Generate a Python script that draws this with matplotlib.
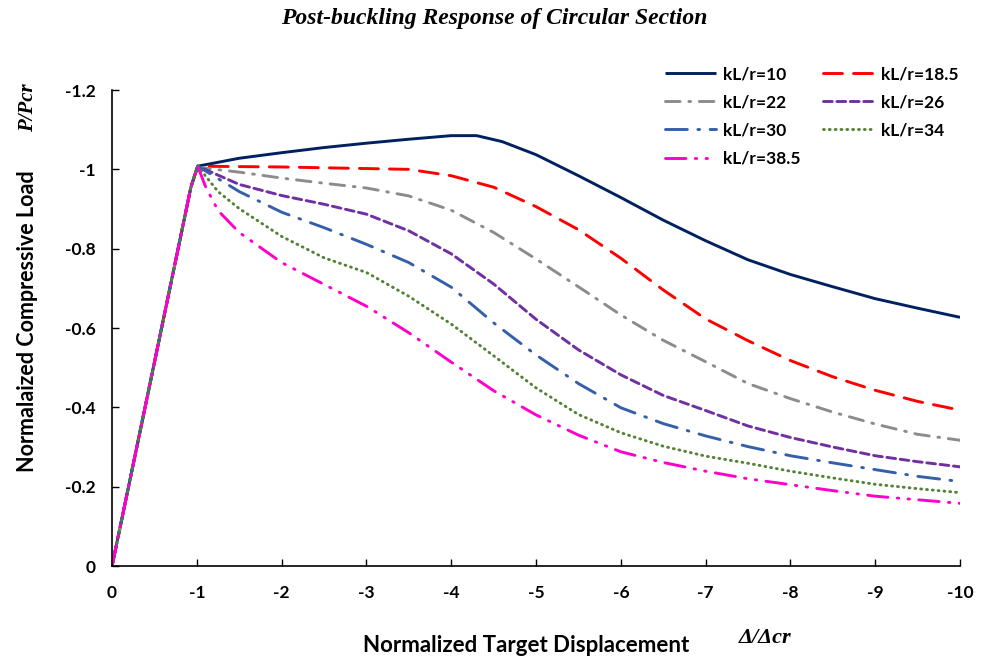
import numpy as np
import matplotlib
matplotlib.use('Agg')
import matplotlib.pyplot as plt

# 数据：归一化位移 Δ/Δcr 与 归一化荷载 P/Pcr
rise_x = [0, -0.93]
rise_y = [0, -0.955]

x_10 = [-1.01, -1.5, -2, -2.5, -3, -3.5, -4, -4.3, -4.6, -5, -5.5, -6, -6.5, -7, -7.5, -8, -8.5, -9, -9.5, -10]
y_10 = [-1.008, -1.028, -1.042, -1.055, -1.066, -1.076, -1.085, -1.085, -1.070, -1.037, -0.984, -0.929, -0.872, -0.820, -0.772, -0.735, -0.704, -0.674, -0.650, -0.627]

x_std = [-1.01, -1.5, -2, -2.5, -3, -3.5, -4, -4.5, -5, -5.5, -6, -6.5, -7, -7.5, -8, -8.5, -9, -9.5, -10]
y_185 = [-1.008, -1.007, -1.006, -1.004, -1.002, -1.000, -0.984, -0.955, -0.906, -0.848, -0.776, -0.696, -0.623, -0.568, -0.518, -0.477, -0.443, -0.415, -0.393]
y_22 = [-1.005, -0.993, -0.978, -0.965, -0.953, -0.933, -0.897, -0.841, -0.774, -0.704, -0.633, -0.569, -0.515, -0.460, -0.422, -0.388, -0.358, -0.332, -0.317]
y_26 = [-1.008, -0.962, -0.934, -0.912, -0.887, -0.845, -0.787, -0.711, -0.622, -0.545, -0.482, -0.430, -0.392, -0.353, -0.324, -0.300, -0.278, -0.263, -0.250]
y_30 = [-1.008, -0.944, -0.892, -0.853, -0.811, -0.765, -0.703, -0.613, -0.532, -0.460, -0.399, -0.359, -0.328, -0.301, -0.278, -0.260, -0.243, -0.226, -0.213]

x_34 = [-1.01, -1.25, -1.5, -2, -2.5, -3, -3.5, -4, -4.5, -5, -5.5, -6, -6.5, -7, -7.5, -8, -8.5, -9, -9.5, -10]
y_34 = [-1.008, -0.944, -0.901, -0.831, -0.777, -0.740, -0.680, -0.610, -0.530, -0.449, -0.382, -0.336, -0.302, -0.277, -0.259, -0.239, -0.222, -0.206, -0.195, -0.185]

x_385 = [-1.01, -1.1, -1.25, -1.5, -2, -2.5, -3, -3.5, -4, -4.5, -5, -5.5, -6, -6.5, -7, -7.5, -8, -8.5, -9, -9.5, -10]
y_385 = [-1.008, -0.958, -0.896, -0.841, -0.765, -0.710, -0.655, -0.588, -0.514, -0.442, -0.381, -0.330, -0.288, -0.261, -0.239, -0.220, -0.205, -0.190, -0.176, -0.167, -0.158]

x_ticks = [0, -1, -2, -3, -4, -5, -6, -7, -8, -9, -10]
x_ticklabels = ['0', '-1', '-2', '-3', '-4', '-5', '-6', '-7', '-8', '-9', '-10']
y_ticks = [0, -0.2, -0.4, -0.6, -0.8, -1.0, -1.2]
y_ticklabels = ['0', '-0.2', '-0.4', '-0.6', '-0.8', '-1', '-1.2']

# 曲线样式
series = [
    ('kL/r=10', x_10, y_10, '#002060', '-', None),
    ('kL/r=18.5', x_std, y_185, '#FF0000', '--', (6.5, 3.8)),
    ('kL/r=22', x_std, y_22, '#8C8C8C', '-.', (5.0, 3.0, 0.6, 3.0)),
    ('kL/r=26', x_std, y_26, '#7030A0', '--', (3.0, 1.6)),
    ('kL/r=30', x_std, y_30, '#3560A8', '-.', (7.5, 3.6, 0.6, 3.6)),
    ('kL/r=34', x_34, y_34, '#548235', ':', (0.3, 1.7)),
    ('kL/r=38.5', x_385, y_385, '#FF00CC', '-.', (7.0, 3.2, 0.5, 3.2, 0.5, 3.2)),
]

plt.rcParams['font.family'] = ['Lato', 'DejaVu Sans']

fig = plt.figure(figsize=(9.88, 6.62), dpi=100)
ax = fig.add_axes([0.1134, 0.145, 0.8583, 0.719])

lines = {}
for label, xs, ys, color, ls, dashes in series:
    xx = rise_x + xs
    yy = rise_y + ys
    ln, = ax.plot(xx, yy, color=color, linewidth=2.1, linestyle=ls,
                  label=label, dash_capstyle='round', solid_capstyle='butt')
    if dashes is not None:
        ln.set_dashes(dashes)
    lines[label] = ln

ax.set_xlim(0, -10)
ax.set_ylim(0, -1.2)
ax.set_xticks(x_ticks)
ax.set_xticklabels(x_ticklabels)
ax.set_yticks(y_ticks)
ax.set_yticklabels(y_ticklabels)
ax.tick_params(direction='in', length=5, width=1, labelsize=12.5, pad=14)
ax.tick_params(axis='y', pad=12)
for t in ax.get_xticklabels() + ax.get_yticklabels():
    t.set_fontweight('bold')

for s in ['top', 'right']:
    ax.spines[s].set_visible(False)
for s in ['left', 'bottom']:
    ax.spines[s].set_linewidth(1.2)

# 图例顺序（两列，按行排列）
order = ['kL/r=10', 'kL/r=22', 'kL/r=30', 'kL/r=38.5', 'kL/r=18.5', 'kL/r=26', 'kL/r=34']
leg = ax.legend([lines[k] for k in order], order, ncol=2, frameon=False,
                loc='upper left', bbox_to_anchor=(0.634, 1.083),
                prop={'weight': 'bold', 'size': 12.5},
                handlelength=2.9, handletextpad=0.45, columnspacing=1.25,
                labelspacing=0.7)

# 标题和坐标轴标签
fig.text(0.5, 0.972, 'Post-buckling Response of Circular Section', ha='center', va='center',
         fontsize=17, fontweight='bold', fontstyle='italic', family='Liberation Serif')
fig.text(0.028, 0.515, 'Normalaized Compressive Load', rotation=90, ha='center', va='center',
         fontsize=15.5, fontweight='bold')
fig.text(0.028, 0.838, 'P/Pcr', rotation=90, ha='center', va='center',
         fontsize=15, fontweight='bold', fontstyle='italic', family='Liberation Serif')
fig.text(0.533, 0.025, 'Normalized Target Displacement', ha='center', va='center',
         fontsize=16, fontweight='bold')
fig.text(0.774, 0.036, 'Δ/Δcr', ha='center', va='center',
         fontsize=16, fontweight='bold', fontstyle='italic', family='Liberation Serif')

fig.savefig('out.png', dpi=100)
